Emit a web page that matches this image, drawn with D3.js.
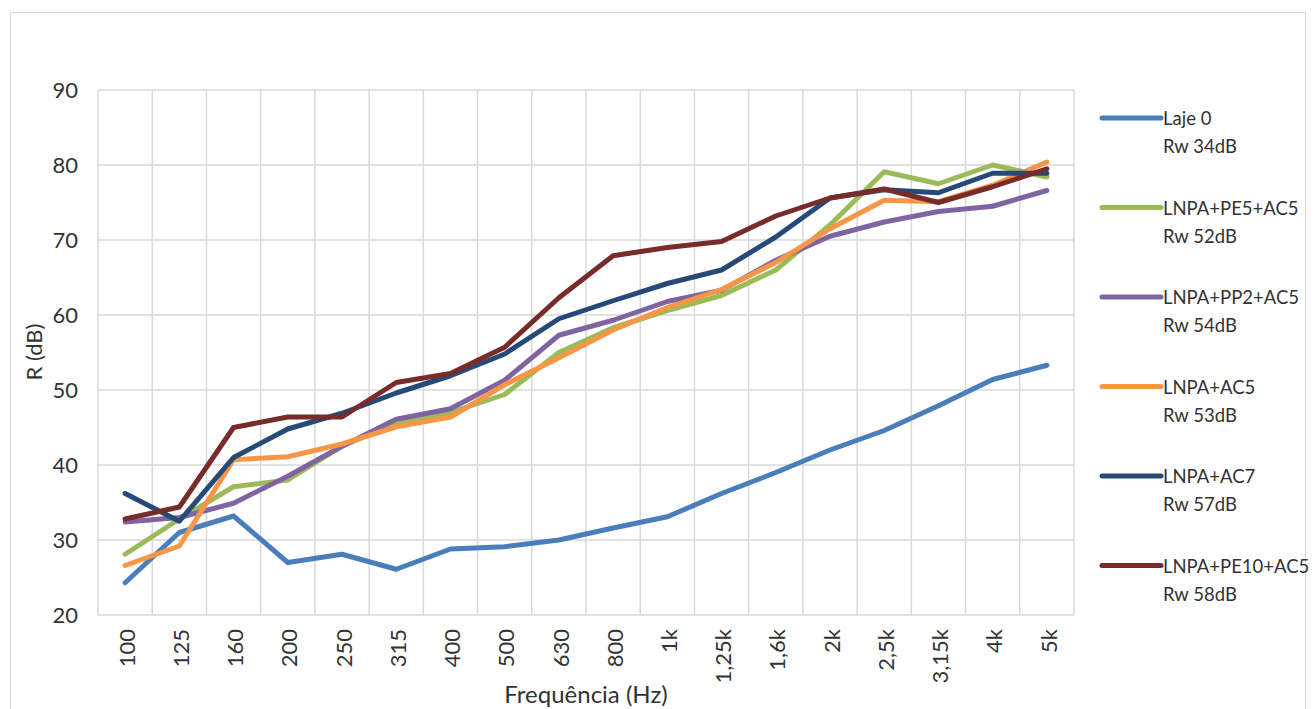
<!DOCTYPE html>
<html>
<head>
<meta charset="utf-8">
<script src="https://cdn.jsdelivr.net/npm/d3@7"></script>
<style>
  html, body { margin: 0; padding: 0; background: #fff; }
  svg { display: block; font-family: Lato, "Liberation Sans", sans-serif; }
</style>
</head>
<body>
<svg id="chart" width="1316" height="709"></svg>
<script>
// Frequency bands (one-third octave)
const categories = ["100","125","160","200","250","315","400","500","630","800","1k","1,25k","1,6k","2k","2,5k","3,15k","4k","5k"];

// Sound reduction index R (dB) per band, one array per floor build-up
const laje0      = [24.3, 31.0, 33.2, 27.0, 28.1, 26.1, 28.8, 29.1, 30.0, 31.6, 33.1, 36.2, 39.0, 42.0, 44.6, 47.9, 51.4, 53.3];
const pe5ac5     = [28.1, 32.8, 37.1, 38.0, 42.5, 45.6, 47.0, 49.4, 55.0, 58.3, 60.6, 62.6, 66.0, 72.0, 79.1, 77.5, 80.0, 78.4];
const pp2ac5     = [32.4, 33.0, 34.9, 38.5, 42.5, 46.1, 47.5, 51.3, 57.3, 59.3, 61.8, 63.3, 67.3, 70.5, 72.4, 73.8, 74.5, 76.6];
const ac5        = [26.6, 29.2, 40.7, 41.1, 42.8, 45.1, 46.4, 50.7, 54.3, 58.0, 61.0, 63.4, 67.0, 71.5, 75.3, 75.1, 77.3, 80.4];
const ac7        = [36.2, 32.5, 41.0, 44.8, 46.9, 49.6, 51.9, 54.8, 59.5, 61.9, 64.2, 66.0, 70.4, 75.6, 76.7, 76.3, 78.9, 78.9];
const pe10ac5    = [32.8, 34.4, 45.0, 46.4, 46.4, 51.0, 52.2, 55.7, 62.3, 67.9, 69.0, 69.8, 73.2, 75.6, 76.8, 75.0, 77.1, 79.5];

const seriesNames  = ["Laje 0", "LNPA+PE5+AC5", "LNPA+PP2+AC5", "LNPA+AC5", "LNPA+AC7", "LNPA+PE10+AC5"];
const seriesRw     = ["Rw 34dB", "Rw 52dB", "Rw 54dB", "Rw 53dB", "Rw 57dB", "Rw 58dB"];
const seriesValues = [laje0, pe5ac5, pp2ac5, ac5, ac7, pe10ac5];
const seriesColors = ["#4a7ebb", "#9bbb59", "#8064a2", "#f79646", "#254a78", "#772c2a"];

const yTicks = [20, 30, 40, 50, 60, 70, 80, 90];

const svg = d3.select("#chart");
const margin = { left: 98, right: 1074, top: 90, bottom: 615 };
const textColor = "#333333";

// Chart frame
svg.append("rect")
  .attr("x", 10.5).attr("y", 12.5)
  .attr("width", 1295).attr("height", 720)
  .attr("fill", "#fff").attr("stroke", "#d9d9d9").attr("stroke-width", 1);

const x = d3.scaleBand().domain(categories).range([margin.left, margin.right]).padding(0);
const y = d3.scaleLinear().domain([20, 90]).range([margin.bottom, margin.top]);

// Gridlines
const grid = svg.append("g").attr("stroke", "#d9d9d9").attr("stroke-width", 1.5);
grid.selectAll("line.h").data(yTicks).join("line")
  .attr("x1", margin.left).attr("x2", margin.right)
  .attr("y1", d => y(d)).attr("y2", d => y(d));
const vEdges = categories.map(c => x(c)).concat([x(categories[categories.length - 1]) + x.bandwidth()]);
grid.selectAll("line.v").data(vEdges).join("line")
  .attr("x1", d => d).attr("x2", d => d)
  .attr("y1", margin.top).attr("y2", margin.bottom);

// Y axis labels
const yAxis = svg.append("g")
  .attr("transform", "translate(78,0)")
  .call(d3.axisLeft(y).tickValues(yTicks).tickSize(0).tickPadding(0));
yAxis.select(".domain").remove();
yAxis.selectAll("text")
  .attr("font-size", 22).attr("fill", textColor)
  .attr("font-family", "Lato, sans-serif");

// X axis labels (rotated)
const xAxis = svg.append("g")
  .attr("transform", `translate(0,${margin.bottom})`)
  .call(d3.axisBottom(x).tickSize(0).tickPadding(0));
xAxis.select(".domain").remove();
xAxis.selectAll("text")
  .attr("font-size", 22).attr("fill", textColor)
  .attr("font-family", "Lato, sans-serif")
  .attr("transform", "rotate(-90)")
  .attr("text-anchor", "end")
  .attr("x", -14).attr("y", 2).attr("dy", "0.35em");

// Axis titles
svg.append("text")
  .attr("x", 586).attr("y", 703)
  .attr("text-anchor", "middle").attr("font-size", 24).attr("fill", textColor)
  .text("Frequência (Hz)");
svg.append("text")
  .attr("transform", "translate(42,352) rotate(-90)")
  .attr("text-anchor", "middle").attr("font-size", 22).attr("fill", textColor)
  .text("R (dB)");

// Series lines
const line = d3.line()
  .x((d, i) => x(categories[i]) + x.bandwidth() / 2)
  .y(d => y(d));
svg.append("g").selectAll("path").data(seriesValues).join("path")
  .attr("d", d => line(d))
  .attr("fill", "none")
  .attr("stroke", (d, i) => seriesColors[i])
  .attr("stroke-width", 5)
  .attr("stroke-linecap", "round")
  .attr("stroke-linejoin", "round");

// Legend
const legend = svg.append("g");
const legendTop = 118, legendStep = 89.5;
seriesNames.forEach((name, i) => {
  const g = legend.append("g").attr("transform", `translate(1102,${legendTop + i * legendStep})`);
  g.append("line").attr("x1", 0).attr("x2", 59).attr("y1", 0).attr("y2", 0)
    .attr("stroke", seriesColors[i]).attr("stroke-width", 5).attr("stroke-linecap", "round");
  g.append("text").attr("x", 61).attr("y", 7).attr("font-size", 18.5).attr("fill", textColor).text(name);
  g.append("text").attr("x", 61).attr("y", 35).attr("font-size", 18.5).attr("fill", textColor).text(seriesRw[i]);
});
</script>
</body>
</html>
